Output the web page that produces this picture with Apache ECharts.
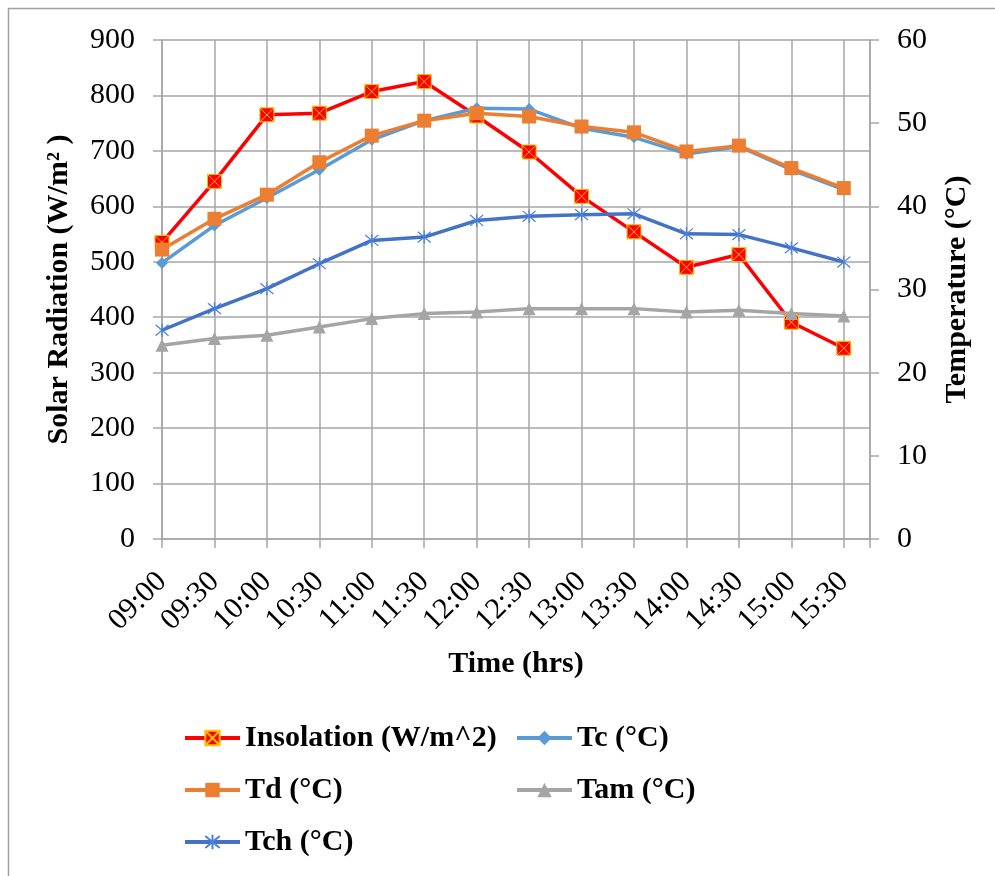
<!DOCTYPE html>
<html>
<head>
<meta charset="utf-8">
<script src="https://cdn.jsdelivr.net/npm/echarts@6/dist/echarts.min.js"></script>
<style>
  html, body { margin: 0; padding: 0; background: #fff; }
  #chart { width: 995px; height: 876px; }
</style>
</head>
<body>
<div id="chart"></div>
<script>
// Half-hourly readings
const times = ['09:00', '09:30', '10:00', '10:30', '11:00', '11:30', '12:00',
               '12:30', '13:00', '13:30', '14:00', '14:30', '15:00', '15:30'];

// Solar radiation, W/m^2 (left axis)
const insolation = [535, 645, 765, 768, 807, 825, 763, 698, 618, 554, 490, 513, 391, 344];

// Temperatures, °C (right axis)
const tc  = [33.2, 37.7, 41.0, 44.4, 48.0, 50.3, 51.8, 51.7, 49.4, 48.3, 46.3, 47.2, 44.4, 42.0];
const td  = [34.8, 38.5, 41.4, 45.3, 48.5, 50.3, 51.2, 50.8, 49.6, 48.9, 46.6, 47.3, 44.6, 42.2];
const tam = [23.3, 24.1, 24.5, 25.5, 26.5, 27.1, 27.3, 27.7, 27.7, 27.7, 27.3, 27.5, 27.1, 26.8];
const tch = [25.1, 27.7, 30.1, 33.1, 35.9, 36.3, 38.3, 38.8, 39.0, 39.1, 36.7, 36.6, 35.0, 33.3];

const seriesNames = ['Insolation (W/m^2)', 'Tc (°C)', 'Td (°C)', 'Tam (°C)', 'Tch (°C)'];

const FONT = 'Liberation Serif';
const GRID_COLOR = '#a6a6a6';

const pairs = arr => arr.map((v, i) => [i, v]);

// red square crossed by a yellow X
const crossBox = 'path://M0,0L10,0L10,10L0,10Z M0,0L10,10 M10,0L0,10';
// six-armed asterisk
const asterisk = 'path://M0,0L10,10 M10,0L0,10 M5,-1L5,11';

const chart = echarts.init(document.getElementById('chart'), null, { renderer: 'canvas' });

function legendAt(name, left, centerY) {
  return {
    data: [name],
    left: left,
    top: centerY - 15,
    padding: 0,
    itemWidth: 55,
    itemHeight: 18,
    itemGap: 0,
    selectedMode: false,
    lineStyle: { width: 4 },
    textStyle: { fontFamily: FONT, fontSize: 30, fontWeight: 'bold', color: '#000', lineHeight: 30, padding: [0, 0, 0, 0] }
  };
}

const option = {
  animation: false,
  backgroundColor: '#fff',
  graphic: [{
    type: 'rect',
    shape: { x: 8.5, y: 8.5, width: 1100, height: 1000 },
    style: { fill: 'none', stroke: '#a0a0a0', lineWidth: 1.5 },
    silent: true
  }],
  grid: { left: 162, right: 125, top: 40, bottom: 337, containLabel: false, outerBoundsMode: 'none' },
  legend: [
    legendAt(seriesNames[0], 183, 738),
    legendAt(seriesNames[1], 515, 738),
    legendAt(seriesNames[2], 183, 790),
    legendAt(seriesNames[3], 515, 790),
    legendAt(seriesNames[4], 183, 842)
  ],
  xAxis: {
    type: 'value',
    min: 0,
    max: 13.5,
    interval: 1,
    name: 'Time (hrs)',
    nameLocation: 'middle',
    nameGap: 110,
    nameTextStyle: { fontFamily: FONT, fontSize: 30, fontWeight: 'bold', color: '#000' },
    axisLine: { show: true, lineStyle: { color: GRID_COLOR, width: 1.5 } },
    axisTick: { show: true, inside: false, length: 9, lineStyle: { color: GRID_COLOR, width: 1.5 } },
    splitLine: { show: true, lineStyle: { color: GRID_COLOR, width: 1.5 } },
    axisLabel: {
      rotate: 45,
      margin: 38,
      fontFamily: FONT,
      fontSize: 30,
      color: '#000',
      showMaxLabel: true,
      formatter: v => (Number.isInteger(v) && times[v] !== undefined) ? times[v] : ''
    }
  },
  yAxis: [{
    type: 'value',
    min: 0,
    max: 900,
    interval: 100,
    name: 'Solar Radiation (W/m² )',
    nameLocation: 'middle',
    nameGap: 88,
    nameTextStyle: { fontFamily: FONT, fontSize: 30, fontWeight: 'bold', color: '#000' },
    axisLine: { show: true, lineStyle: { color: GRID_COLOR, width: 1.5 } },
    axisTick: { show: true, inside: false, length: 9, lineStyle: { color: GRID_COLOR, width: 1.5 } },
    splitLine: { show: true, lineStyle: { color: GRID_COLOR, width: 1.5 } },
    axisLabel: { margin: 27, fontFamily: FONT, fontSize: 30, color: '#000' }
  }, {
    type: 'value',
    min: 0,
    max: 60,
    interval: 10,
    position: 'right',
    name: 'Temperature (°C)',
    nameLocation: 'middle',
    nameGap: 72,
    nameTextStyle: { fontFamily: FONT, fontSize: 30, fontWeight: 'bold', color: '#000' },
    axisLine: { show: true, lineStyle: { color: GRID_COLOR, width: 1.5 } },
    axisTick: { show: true, inside: false, length: 9, lineStyle: { color: GRID_COLOR, width: 1.5 } },
    splitLine: { show: false },
    axisLabel: { margin: 27, fontFamily: FONT, fontSize: 30, color: '#000' }
  }],
  series: [{
    name: seriesNames[0],
    type: 'line',
    yAxisIndex: 0,
    data: pairs(insolation),
    symbol: crossBox,
    symbolSize: 14,
    lineStyle: { color: '#ff0000', width: 3.5 },
    itemStyle: { color: '#ff0000', borderColor: '#ffc000', borderWidth: 1 }
  }, {
    name: seriesNames[1],
    type: 'line',
    yAxisIndex: 1,
    data: pairs(tc),
    symbol: 'diamond',
    symbolSize: 12,
    lineStyle: { color: '#5b9bd5', width: 3.5 },
    itemStyle: { color: '#5b9bd5', borderWidth: 0 }
  }, {
    name: seriesNames[2],
    type: 'line',
    yAxisIndex: 1,
    data: pairs(td),
    symbol: 'rect',
    symbolSize: 14,
    lineStyle: { color: '#ed7d31', width: 3.5 },
    itemStyle: { color: '#ed7d31', borderWidth: 0 }
  }, {
    name: seriesNames[3],
    type: 'line',
    yAxisIndex: 1,
    data: pairs(tam),
    symbol: 'triangle',
    symbolSize: 13,
    lineStyle: { color: '#a5a5a5', width: 3.5 },
    itemStyle: { color: '#a5a5a5', borderWidth: 0 }
  }, {
    name: seriesNames[4],
    type: 'line',
    yAxisIndex: 1,
    data: pairs(tch),
    symbol: asterisk,
    symbolSize: 13,
    lineStyle: { color: '#4472c4', width: 3.5 },
    itemStyle: { color: 'rgba(0,0,0,0)', borderColor: '#4a7fe0', borderWidth: 1.2 }
  }]
};

chart.setOption(option);
</script>
</body>
</html>
